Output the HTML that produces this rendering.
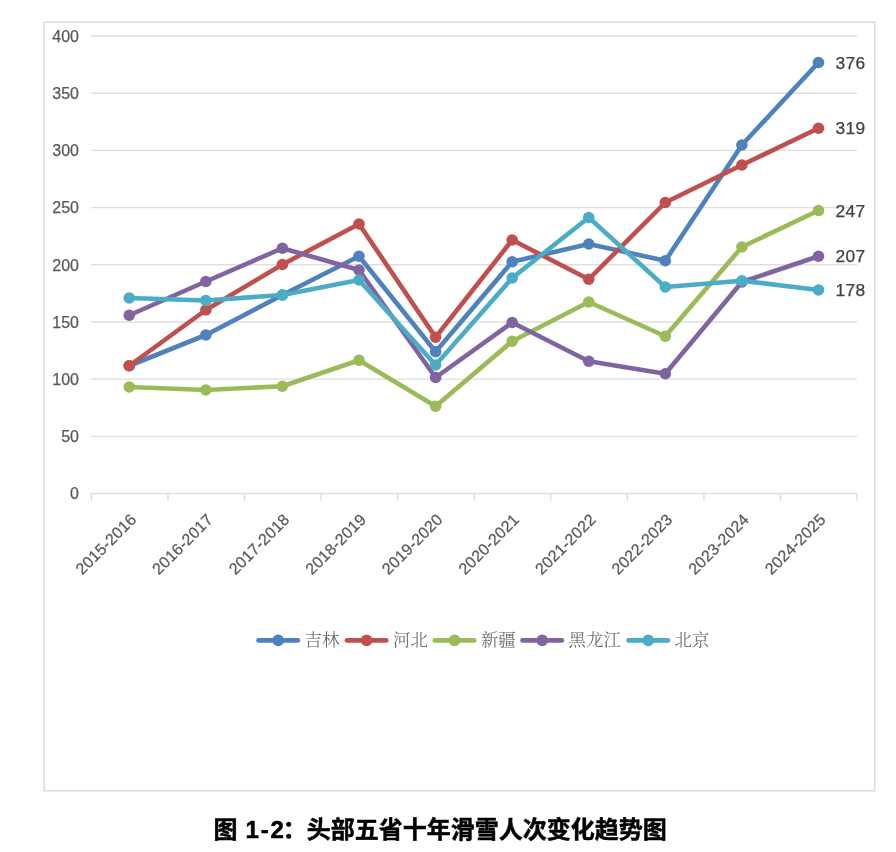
<!DOCTYPE html>
<html lang="zh-CN"><head><meta charset="utf-8"><title>图 1-2：头部五省十年滑雪人次变化趋势图</title>
<style>
html,body{margin:0;padding:0;background:#fff;}
body{width:896px;height:852px;overflow:hidden;}
svg{display:block;}
.ax{font-family:"Liberation Sans","DejaVu Sans",sans-serif;font-size:16px;fill:#595959;stroke:#595959;stroke-width:0.25px;}
.dl{font-family:"Liberation Sans","DejaVu Sans",sans-serif;font-size:17.4px;fill:#404040;stroke:#404040;stroke-width:0.25px;letter-spacing:0.3px;}
.lg{font-family:"Liberation Serif","Noto Serif CJK SC",serif;font-size:17.4px;font-weight:300;fill:#595959;}
.cap{font-family:"Liberation Sans","Noto Sans CJK SC",sans-serif;font-size:24px;font-weight:bold;fill:#000;}
</style></head><body>
<svg width="896" height="852" viewBox="0 0 896 852">
<rect x="0" y="0" width="896" height="852" fill="#fff"/>
<rect x="44.2" y="22.2" width="830.6" height="768.6" fill="#fff" stroke="#DDDDDD" stroke-width="1.6"/>

<line x1="91" y1="493.55" x2="857" y2="493.55" stroke="#DFDFDF" stroke-width="1.4"/>
<text class="ax" x="79" y="499.35" text-anchor="end">0</text>
<line x1="91" y1="436.36" x2="857" y2="436.36" stroke="#DFDFDF" stroke-width="1.4"/>
<text class="ax" x="79" y="442.16" text-anchor="end">50</text>
<line x1="91" y1="379.17" x2="857" y2="379.17" stroke="#DFDFDF" stroke-width="1.4"/>
<text class="ax" x="79" y="384.97" text-anchor="end">100</text>
<line x1="91" y1="321.98" x2="857" y2="321.98" stroke="#DFDFDF" stroke-width="1.4"/>
<text class="ax" x="79" y="327.78" text-anchor="end">150</text>
<line x1="91" y1="264.79" x2="857" y2="264.79" stroke="#DFDFDF" stroke-width="1.4"/>
<text class="ax" x="79" y="270.59" text-anchor="end">200</text>
<line x1="91" y1="207.60" x2="857" y2="207.60" stroke="#DFDFDF" stroke-width="1.4"/>
<text class="ax" x="79" y="213.40" text-anchor="end">250</text>
<line x1="91" y1="150.41" x2="857" y2="150.41" stroke="#DFDFDF" stroke-width="1.4"/>
<text class="ax" x="79" y="156.21" text-anchor="end">300</text>
<line x1="91" y1="93.22" x2="857" y2="93.22" stroke="#DFDFDF" stroke-width="1.4"/>
<text class="ax" x="79" y="99.02" text-anchor="end">350</text>
<line x1="91" y1="36.03" x2="857" y2="36.03" stroke="#DFDFDF" stroke-width="1.4"/>
<text class="ax" x="79" y="41.83" text-anchor="end">400</text>
<line x1="91.40" y1="493.55" x2="91.40" y2="500.8" stroke="#D9D9D9" stroke-width="1.3"/>
<line x1="167.96" y1="493.55" x2="167.96" y2="500.8" stroke="#D9D9D9" stroke-width="1.3"/>
<line x1="244.52" y1="493.55" x2="244.52" y2="500.8" stroke="#D9D9D9" stroke-width="1.3"/>
<line x1="321.08" y1="493.55" x2="321.08" y2="500.8" stroke="#D9D9D9" stroke-width="1.3"/>
<line x1="397.64" y1="493.55" x2="397.64" y2="500.8" stroke="#D9D9D9" stroke-width="1.3"/>
<line x1="474.20" y1="493.55" x2="474.20" y2="500.8" stroke="#D9D9D9" stroke-width="1.3"/>
<line x1="550.76" y1="493.55" x2="550.76" y2="500.8" stroke="#D9D9D9" stroke-width="1.3"/>
<line x1="627.32" y1="493.55" x2="627.32" y2="500.8" stroke="#D9D9D9" stroke-width="1.3"/>
<line x1="703.88" y1="493.55" x2="703.88" y2="500.8" stroke="#D9D9D9" stroke-width="1.3"/>
<line x1="780.44" y1="493.55" x2="780.44" y2="500.8" stroke="#D9D9D9" stroke-width="1.3"/>
<line x1="857.00" y1="493.55" x2="857.00" y2="500.8" stroke="#D9D9D9" stroke-width="1.3"/>
<text class="ax" transform="translate(131.65,514.9) rotate(-45)" text-anchor="end" x="0" y="8" letter-spacing="0.15">2015-2016</text>
<text class="ax" transform="translate(208.25,514.9) rotate(-45)" text-anchor="end" x="0" y="8" letter-spacing="0.15">2016-2017</text>
<text class="ax" transform="translate(284.80,514.9) rotate(-45)" text-anchor="end" x="0" y="8" letter-spacing="0.15">2017-2018</text>
<text class="ax" transform="translate(361.40,514.9) rotate(-45)" text-anchor="end" x="0" y="8" letter-spacing="0.15">2018-2019</text>
<text class="ax" transform="translate(438.00,514.9) rotate(-45)" text-anchor="end" x="0" y="8" letter-spacing="0.15">2019-2020</text>
<text class="ax" transform="translate(514.60,514.9) rotate(-45)" text-anchor="end" x="0" y="8" letter-spacing="0.15">2020-2021</text>
<text class="ax" transform="translate(591.15,514.9) rotate(-45)" text-anchor="end" x="0" y="8" letter-spacing="0.15">2021-2022</text>
<text class="ax" transform="translate(667.70,514.9) rotate(-45)" text-anchor="end" x="0" y="8" letter-spacing="0.15">2022-2023</text>
<text class="ax" transform="translate(744.30,514.9) rotate(-45)" text-anchor="end" x="0" y="8" letter-spacing="0.15">2023-2024</text>
<text class="ax" transform="translate(820.90,514.9) rotate(-45)" text-anchor="end" x="0" y="8" letter-spacing="0.15">2024-2025</text>
<polyline points="129.25,365.75 205.85,335.00 282.40,295.00 359.00,256.25 435.60,351.75 512.20,261.75 588.75,244.00 665.30,260.75 741.90,145.00 818.50,62.50" fill="none" stroke="#4F81BD" stroke-width="4.6" stroke-linejoin="round" stroke-linecap="round"/>
<circle cx="129.25" cy="365.75" r="5.8" fill="#4F81BD"/>
<circle cx="205.85" cy="335.00" r="5.8" fill="#4F81BD"/>
<circle cx="282.40" cy="295.00" r="5.8" fill="#4F81BD"/>
<circle cx="359.00" cy="256.25" r="5.8" fill="#4F81BD"/>
<circle cx="435.60" cy="351.75" r="5.8" fill="#4F81BD"/>
<circle cx="512.20" cy="261.75" r="5.8" fill="#4F81BD"/>
<circle cx="588.75" cy="244.00" r="5.8" fill="#4F81BD"/>
<circle cx="665.30" cy="260.75" r="5.8" fill="#4F81BD"/>
<circle cx="741.90" cy="145.00" r="5.8" fill="#4F81BD"/>
<circle cx="818.50" cy="62.50" r="5.8" fill="#4F81BD"/>
<polyline points="129.25,365.75 205.85,310.00 282.40,264.50 359.00,224.00 435.60,337.25 512.20,240.00 588.75,279.25 665.30,202.50 741.90,165.00 818.50,128.25" fill="none" stroke="#C0504D" stroke-width="4.6" stroke-linejoin="round" stroke-linecap="round"/>
<circle cx="129.25" cy="365.75" r="5.8" fill="#C0504D"/>
<circle cx="205.85" cy="310.00" r="5.8" fill="#C0504D"/>
<circle cx="282.40" cy="264.50" r="5.8" fill="#C0504D"/>
<circle cx="359.00" cy="224.00" r="5.8" fill="#C0504D"/>
<circle cx="435.60" cy="337.25" r="5.8" fill="#C0504D"/>
<circle cx="512.20" cy="240.00" r="5.8" fill="#C0504D"/>
<circle cx="588.75" cy="279.25" r="5.8" fill="#C0504D"/>
<circle cx="665.30" cy="202.50" r="5.8" fill="#C0504D"/>
<circle cx="741.90" cy="165.00" r="5.8" fill="#C0504D"/>
<circle cx="818.50" cy="128.25" r="5.8" fill="#C0504D"/>
<polyline points="129.25,387.00 205.85,390.00 282.40,386.25 359.00,360.25 435.60,406.25 512.20,341.25 588.75,302.00 665.30,336.25 741.90,247.00 818.50,210.50" fill="none" stroke="#9BBB59" stroke-width="4.6" stroke-linejoin="round" stroke-linecap="round"/>
<circle cx="129.25" cy="387.00" r="5.8" fill="#9BBB59"/>
<circle cx="205.85" cy="390.00" r="5.8" fill="#9BBB59"/>
<circle cx="282.40" cy="386.25" r="5.8" fill="#9BBB59"/>
<circle cx="359.00" cy="360.25" r="5.8" fill="#9BBB59"/>
<circle cx="435.60" cy="406.25" r="5.8" fill="#9BBB59"/>
<circle cx="512.20" cy="341.25" r="5.8" fill="#9BBB59"/>
<circle cx="588.75" cy="302.00" r="5.8" fill="#9BBB59"/>
<circle cx="665.30" cy="336.25" r="5.8" fill="#9BBB59"/>
<circle cx="741.90" cy="247.00" r="5.8" fill="#9BBB59"/>
<circle cx="818.50" cy="210.50" r="5.8" fill="#9BBB59"/>
<polyline points="129.25,315.25 205.85,281.50 282.40,248.25 359.00,270.00 435.60,377.50 512.20,322.50 588.75,361.25 665.30,373.75 741.90,282.00 818.50,256.25" fill="none" stroke="#8064A2" stroke-width="4.6" stroke-linejoin="round" stroke-linecap="round"/>
<circle cx="129.25" cy="315.25" r="5.8" fill="#8064A2"/>
<circle cx="205.85" cy="281.50" r="5.8" fill="#8064A2"/>
<circle cx="282.40" cy="248.25" r="5.8" fill="#8064A2"/>
<circle cx="359.00" cy="270.00" r="5.8" fill="#8064A2"/>
<circle cx="435.60" cy="377.50" r="5.8" fill="#8064A2"/>
<circle cx="512.20" cy="322.50" r="5.8" fill="#8064A2"/>
<circle cx="588.75" cy="361.25" r="5.8" fill="#8064A2"/>
<circle cx="665.30" cy="373.75" r="5.8" fill="#8064A2"/>
<circle cx="741.90" cy="282.00" r="5.8" fill="#8064A2"/>
<circle cx="818.50" cy="256.25" r="5.8" fill="#8064A2"/>
<polyline points="129.25,298.00 205.85,300.50 282.40,295.00 359.00,280.00 435.60,365.00 512.20,278.00 588.75,217.50 665.30,287.00 741.90,280.75 818.50,290.00" fill="none" stroke="#4BACC6" stroke-width="4.6" stroke-linejoin="round" stroke-linecap="round"/>
<circle cx="129.25" cy="298.00" r="5.8" fill="#4BACC6"/>
<circle cx="205.85" cy="300.50" r="5.8" fill="#4BACC6"/>
<circle cx="282.40" cy="295.00" r="5.8" fill="#4BACC6"/>
<circle cx="359.00" cy="280.00" r="5.8" fill="#4BACC6"/>
<circle cx="435.60" cy="365.00" r="5.8" fill="#4BACC6"/>
<circle cx="512.20" cy="278.00" r="5.8" fill="#4BACC6"/>
<circle cx="588.75" cy="217.50" r="5.8" fill="#4BACC6"/>
<circle cx="665.30" cy="287.00" r="5.8" fill="#4BACC6"/>
<circle cx="741.90" cy="280.75" r="5.8" fill="#4BACC6"/>
<circle cx="818.50" cy="290.00" r="5.8" fill="#4BACC6"/>
<text class="dl" x="835.5" y="68.70">376</text>
<text class="dl" x="835.5" y="134.45">319</text>
<text class="dl" x="835.5" y="216.70">247</text>
<text class="dl" x="835.5" y="262.45">207</text>
<text class="dl" x="835.5" y="296.20">178</text>
<line x1="258.50" y1="640.4" x2="297.90" y2="640.4" stroke="#4F81BD" stroke-width="4.6" stroke-linecap="round"/>
<circle cx="278.20" cy="640.4" r="5.8" fill="#4F81BD"/>
<text class="lg" x="304.60" y="646.0">吉林</text>
<line x1="346.90" y1="640.4" x2="386.30" y2="640.4" stroke="#C0504D" stroke-width="4.6" stroke-linecap="round"/>
<circle cx="366.60" cy="640.4" r="5.8" fill="#C0504D"/>
<text class="lg" x="393.00" y="646.0">河北</text>
<line x1="434.80" y1="640.4" x2="474.20" y2="640.4" stroke="#9BBB59" stroke-width="4.6" stroke-linecap="round"/>
<circle cx="454.50" cy="640.4" r="5.8" fill="#9BBB59"/>
<text class="lg" x="480.90" y="646.0">新疆</text>
<line x1="522.50" y1="640.4" x2="561.90" y2="640.4" stroke="#8064A2" stroke-width="4.6" stroke-linecap="round"/>
<circle cx="542.20" cy="640.4" r="5.8" fill="#8064A2"/>
<text class="lg" x="568.60" y="646.0">黑龙江</text>
<line x1="628.50" y1="640.4" x2="667.90" y2="640.4" stroke="#4BACC6" stroke-width="4.6" stroke-linecap="round"/>
<circle cx="648.20" cy="640.4" r="5.8" fill="#4BACC6"/>
<text class="lg" x="674.60" y="646.0">北京</text>
<text class="cap" y="837.8" stroke="#000" stroke-width="0.5"><tspan x="213.4">图 </tspan><tspan x="245.4" letter-spacing="1.9">1-2</tspan><tspan x="282.8">：头部五省十年滑雪人次变化趋势图</tspan></text>
</svg></body></html>
